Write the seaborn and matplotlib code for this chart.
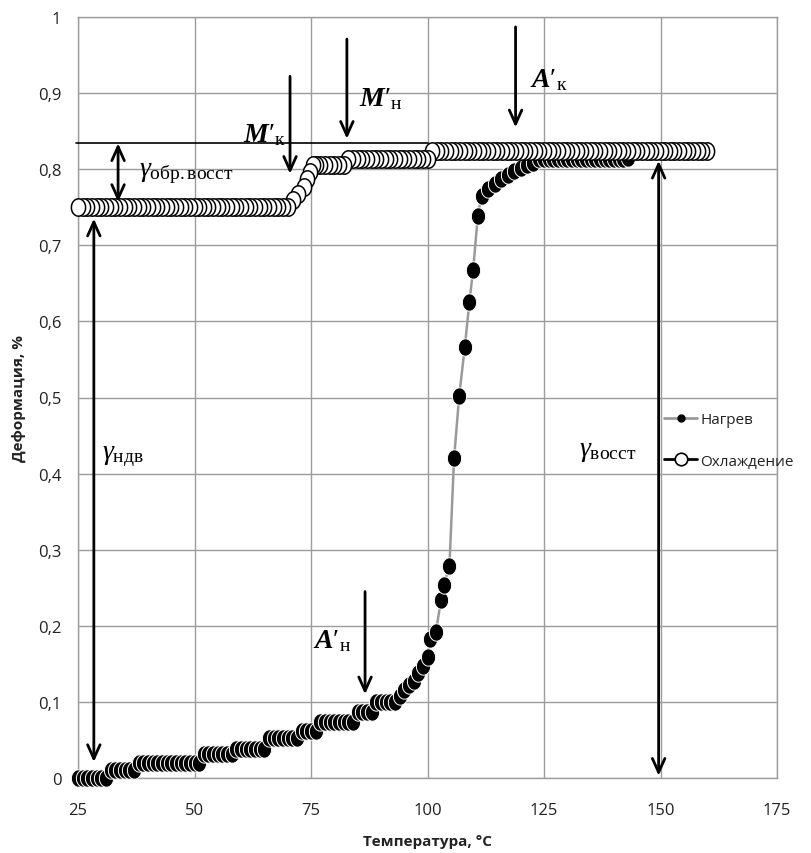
import matplotlib
matplotlib.use('Agg')
import numpy as np
import matplotlib.pyplot as plt
import seaborn as sns
from matplotlib.lines import Line2D

# ---------------- data ----------------
# Heating (Нагрев), in recording order (low -> high temperature)
heat_T = [25, 26, 27, 28, 29, 30, 31,
          32, 33, 34, 35, 36, 37,
          38, 39, 40, 41, 42, 43, 44, 45, 46, 47, 48, 49, 50, 51,
          52, 53, 54, 55, 56, 57, 58,
          59, 60, 61, 62, 63, 64, 65,
          66, 67, 68, 69, 70, 71, 72,
          73, 74, 75, 76,
          77, 78, 79, 80, 81, 82, 83, 84,
          85, 86, 87, 88,
          89, 90, 91, 92, 93,
          94, 95, 96, 97, 98, 99, 100.0,
          100.5, 101.8, 102.9, 103.5, 104.7, 105.7, 106.8, 108.0, 109.0, 109.8, 110.8,
          111.6, 113.0, 114.4, 115.8, 117.2, 118.6, 120.0, 121.4, 122.7,
          124, 125, 126, 127, 128, 129, 130, 131, 132, 133,
          134, 135, 136, 137, 138, 139, 140, 141, 142, 143]
heat_def = [0.0, 0.0, 0.0, 0.0, 0.0, 0.0, 0.0,
            0.010, 0.010, 0.010, 0.010, 0.010, 0.010,
            0.020, 0.020, 0.020, 0.020, 0.020, 0.020, 0.020, 0.020, 0.020, 0.020, 0.020, 0.020, 0.020, 0.020,
            0.031, 0.031, 0.031, 0.031, 0.031, 0.031, 0.031,
            0.038, 0.038, 0.038, 0.038, 0.038, 0.038, 0.038,
            0.052, 0.052, 0.052, 0.052, 0.052, 0.052, 0.052,
            0.062, 0.062, 0.062, 0.062,
            0.073, 0.073, 0.073, 0.073, 0.073, 0.073, 0.073, 0.073,
            0.087, 0.087, 0.087, 0.087,
            0.100, 0.100, 0.100, 0.100, 0.100,
            0.108, 0.115, 0.122, 0.128, 0.138, 0.147, 0.159,
            0.183, 0.192, 0.234, 0.254, 0.278, 0.420, 0.502, 0.566, 0.626, 0.668, 0.739,
            0.765, 0.774, 0.781, 0.787, 0.792, 0.797, 0.801, 0.805, 0.808,
            0.813, 0.813, 0.813, 0.813, 0.813, 0.813, 0.813, 0.813, 0.813, 0.813,
            0.813, 0.813, 0.813, 0.813, 0.813, 0.813, 0.813, 0.813, 0.813, 0.815]

# Cooling (Охлаждение), in recording order (high -> low temperature)
cool_T = [160, 159, 158, 157, 156, 155, 154, 153, 152, 151,
          150, 149, 148, 147, 146, 145, 144, 143, 142, 141,
          140, 139, 138, 137, 136, 135, 134, 133, 132, 131,
          130, 129, 128, 127, 126, 125, 124, 123, 122, 121,
          120, 119, 118, 117, 116, 115, 114, 113, 112, 111,
          110, 109, 108, 107, 106, 105, 104, 103, 102, 101,
          100, 99, 98, 97, 96, 95, 94, 93, 92, 91,
          90, 89, 88, 87, 86, 85, 84, 83,
          82, 81, 80, 79, 78, 77, 76,
          75.5, 74.8, 74.1, 73.4, 72.3, 71.2,
          70, 69, 68, 67, 66, 65, 64, 63, 62, 61,
          60, 59, 58, 57, 56, 55, 54, 53, 52, 51,
          50, 49, 48, 47, 46, 45, 44, 43, 42, 41,
          40, 39, 38, 37, 36, 35, 34, 33, 32, 31,
          30, 29, 28, 27, 26, 25]
cool_def = [0.824, 0.824, 0.824, 0.824, 0.824, 0.824, 0.824, 0.824, 0.824, 0.824,
            0.824, 0.824, 0.824, 0.824, 0.824, 0.824, 0.824, 0.824, 0.824, 0.824,
            0.824, 0.824, 0.824, 0.824, 0.824, 0.824, 0.824, 0.824, 0.824, 0.824,
            0.824, 0.824, 0.824, 0.824, 0.824, 0.824, 0.824, 0.824, 0.824, 0.824,
            0.824, 0.824, 0.824, 0.824, 0.824, 0.824, 0.824, 0.824, 0.824, 0.824,
            0.824, 0.824, 0.824, 0.824, 0.824, 0.824, 0.824, 0.824, 0.824, 0.824,
            0.814, 0.814, 0.814, 0.814, 0.814, 0.814, 0.814, 0.814, 0.814, 0.814,
            0.814, 0.814, 0.814, 0.814, 0.814, 0.814, 0.814, 0.814,
            0.805, 0.805, 0.805, 0.805, 0.805, 0.805, 0.805,
            0.805, 0.796, 0.787, 0.776, 0.767, 0.759,
            0.750, 0.750, 0.750, 0.750, 0.750, 0.750, 0.750, 0.750, 0.750, 0.750,
            0.750, 0.750, 0.750, 0.750, 0.750, 0.750, 0.750, 0.750, 0.750, 0.750,
            0.750, 0.750, 0.750, 0.750, 0.750, 0.750, 0.750, 0.750, 0.750, 0.750,
            0.750, 0.750, 0.750, 0.750, 0.750, 0.750, 0.750, 0.750, 0.750, 0.750,
            0.750, 0.750, 0.750, 0.750, 0.750, 0.750]

x_ticks = [25, 50, 75, 100, 125, 150, 175]
x_ticklabels = ['25', '50', '75', '100', '125', '150', '175']
y_ticks = [0, 0.1, 0.2, 0.3, 0.4, 0.5, 0.6, 0.7, 0.8, 0.9, 1.0]
y_ticklabels = ['0', '0,1', '0,2', '0,3', '0,4', '0,5', '0,6', '0,7', '0,8', '0,9', '1']

# reference level line (top of the cooling plateau)
ref_line_T = [24.6, 100.0]
ref_line_def = [0.834, 0.834]

# ---------------- style ----------------
sns.set_style('white')
plt.rcParams['font.family'] = ['Open Sans', 'DejaVu Sans']
plt.rcParams['mathtext.fontset'] = 'custom'
plt.rcParams['mathtext.rm'] = 'Liberation Serif'
plt.rcParams['mathtext.it'] = 'Liberation Serif:italic'
plt.rcParams['mathtext.bf'] = 'Liberation Serif:bold'
plt.rcParams['mathtext.bfit'] = 'Liberation Serif:italic:bold'

W, H = 811, 854
fig = plt.figure(figsize=(W / 100, H / 100), dpi=100)
ax = fig.add_axes([78 / W, 1 - 779 / H, 699 / W, 761 / H])

grid_c = '#9c9c9c'
ax.set_xlim(25, 175)
ax.set_ylim(0, 1)
ax.set_xticks(x_ticks)
ax.set_xticklabels(x_ticklabels)
ax.set_yticks(y_ticks)
ax.set_yticklabels(y_ticklabels)
ax.grid(True, color=grid_c, lw=1.0)
ax.set_axisbelow(True)
for s in ax.spines.values():
    s.set_color(grid_c)
    s.set_linewidth(1.0)
ax.tick_params(axis='both', length=0, labelsize=12, colors='#222222')
ax.tick_params(axis='y', pad=12)
ax.tick_params(axis='x', pad=17)

# slightly tall elliptical marker shape (as in the source chart)
_th = np.linspace(0, 2 * np.pi, 64)
ell = list(zip(0.82 * np.cos(_th), np.sin(_th)))

# heating series
sns.lineplot(x=heat_T, y=heat_def, ax=ax, sort=False, estimator=None,
             color='#9a9a9a', lw=1.8, marker=ell, markersize=12.5,
             markerfacecolor='black', markeredgecolor='white',
             markeredgewidth=0.7, zorder=3, clip_on=False)
# cooling series
sns.lineplot(x=cool_T, y=cool_def, ax=ax, sort=False, estimator=None,
             color='black', lw=1.5, marker=ell, markersize=12.5,
             markerfacecolor='white', markeredgecolor='black',
             markeredgewidth=1.1, zorder=4, clip_on=False)

sns.lineplot(x=ref_line_T, y=ref_line_def, ax=ax, sort=False, estimator=None,
             color='black', lw=1.2, zorder=5, clip_on=False)

# ---------------- annotations ----------------
def arrow(x0, y0, x1, y1, style='->'):
    ax.annotate('', xy=(x1, y1), xytext=(x0, y0),
                arrowprops=dict(arrowstyle=style + ', head_length=1.0, head_width=0.45',
                                lw=2.0, color='black', shrinkA=0, shrinkB=0),
                zorder=6, annotation_clip=False)

# double arrows
arrow(33.6, 0.834, 33.6, 0.757, '<->')
arrow(28.4, 0.735, 28.4, 0.021, '<->')
arrow(149.6, 0.811, 149.6, 0.003, '<->')
# single down arrows
arrow(70.5, 0.922, 70.5, 0.794)
arrow(82.7, 0.971, 82.7, 0.840)
arrow(118.9, 0.987, 118.9, 0.855)
arrow(86.6, 0.245, 86.6, 0.110)

lab = dict(fontsize=20, color='black', zorder=7)
ax.text(38.0, 0.797, r'$\gamma_{\mathrm{обр.восст}}$', ha='left', va='center', **lab)
ax.text(30.2, 0.426, r'$\gamma_{\mathrm{ндв}}$', ha='left', va='center', **lab)
ax.text(132.5, 0.432, r'$\gamma_{\mathrm{восст}}$', ha='left', va='center', **lab)
ax.text(69.6, 0.846, r"$\mathbfit{M}\prime_{\mathrm{к}}$", ha='right', va='center', **lab)
ax.text(85.2, 0.893, r"$\mathbfit{M}\prime_{\mathrm{н}}$", ha='left', va='center', **lab)
ax.text(122.0, 0.918, r"$\mathbfit{A}\prime_{\mathrm{к}}$", ha='left', va='center', **lab)
ax.text(83.6, 0.181, r"$\mathbfit{A}\prime_{\mathrm{н}}$", ha='right', va='center', **lab)

# ---------------- labels ----------------
ax.set_xlabel('Температура, °С', fontsize=11, fontweight='bold', color='#222222')
ax.set_ylabel('Деформация, %', fontsize=11, fontweight='bold', color='#222222')
ax.xaxis.set_label_coords(0.5, -0.074)
ax.yaxis.set_label_coords(-0.074, 0.5)

# ---------------- legend ----------------
handles = [Line2D([], [], color='#9a9a9a', lw=2.0, marker='o', markersize=5,
                  markerfacecolor='black', markeredgecolor='black'),
           Line2D([], [], color='black', lw=2.0, marker='o', markersize=9,
                  markerfacecolor='white', markeredgecolor='black', markeredgewidth=1.2)]
leg = ax.legend(handles, ['Нагрев', 'Охлаждение'], loc='upper left',
                bbox_to_anchor=(0.838, 0.481), frameon=False, fontsize=11,
                handlelength=2.2, handletextpad=0.2, labelspacing=1.75,
                borderpad=0, borderaxespad=0)
for t in leg.get_texts():
    t.set_color('#222222')

fig.savefig('out.png', dpi=100)
